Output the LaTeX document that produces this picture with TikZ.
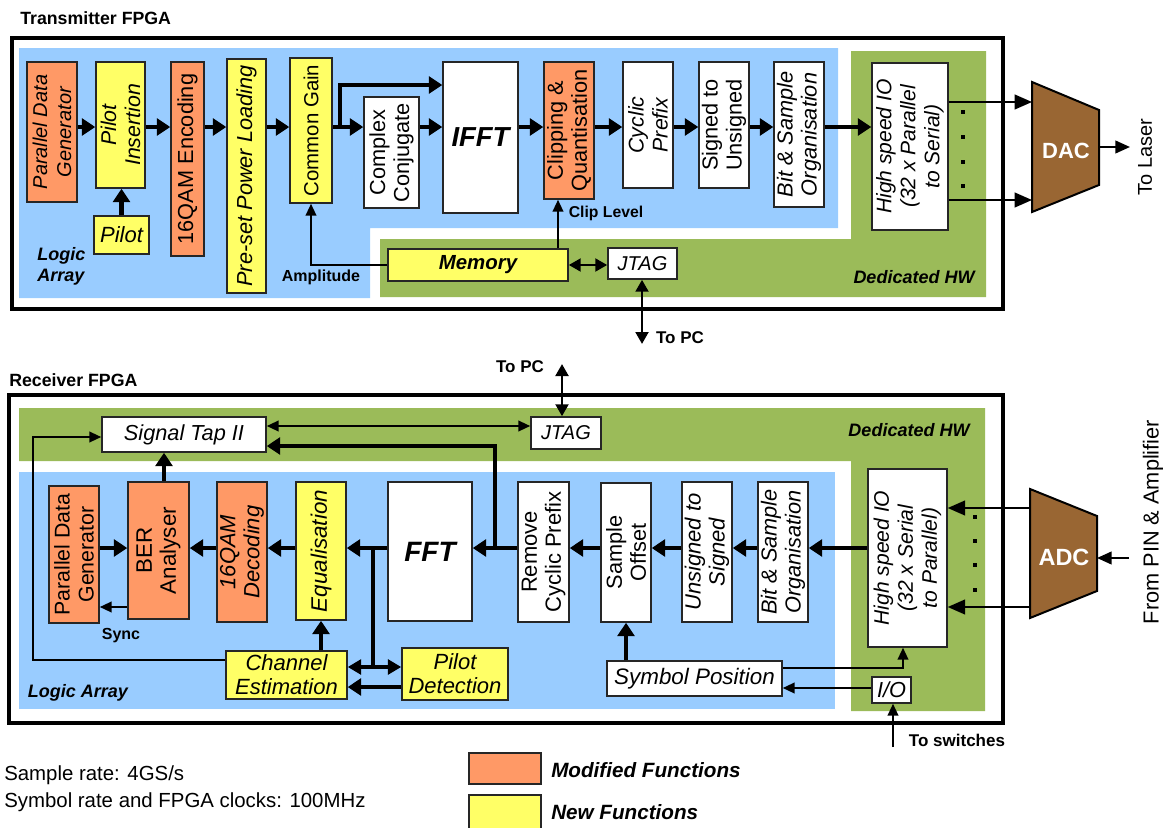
\documentclass[tikz,border=0pt]{standalone}
\usepackage{fontspec}
\setmainfont{Liberation Sans}
\usetikzlibrary{arrows.meta,fit}
\definecolor{lablue}{HTML}{99CCFF}
\definecolor{hwgreen}{HTML}{9BBB59}
\definecolor{modorange}{HTML}{FF9966}
\definecolor{newyellow}{HTML}{FFFF66}
\definecolor{convbrown}{HTML}{996633}
\newcommand\fz[1]{\fontsize{#1}{18}\selectfont}
\begin{document}
\begin{tikzpicture}[x=0.75pt,y=-0.75pt,
  blk/.style={draw=black!85, line width=1.1pt, fill=white, inner sep=0pt},
  modb/.style={blk, fill=modorange},
  newb/.style={blk, fill=newyellow},
  vtxt/.style={rotate=90, align=center, inner sep=0pt},
  htxt/.style={align=center, inner sep=0pt},
  fat/.style={line width=3.6pt, -{Triangle[length=10pt,width=12.5pt]}},
  fatline/.style={line width=3.6pt},
  med/.style={line width=2.2pt, -{Triangle[length=9pt,width=9.5pt]}},
  medboth/.style={line width=2.2pt, {Triangle[length=9pt,width=9.5pt]}-{Triangle[length=9pt,width=9.5pt]}},
  slim/.style={line width=1.5pt, -{Triangle[length=9pt,width=8pt]}},
  slimboth/.style={line width=1.5pt, {Triangle[length=9pt,width=8pt]}-{Triangle[length=9pt,width=8pt]}},
  conv/.style={line width=1.6pt, -{Triangle[length=13pt,width=11pt]}},
  boldlbl/.style={inner sep=0pt, font=\fz{12}\bfseries},
  arealbl/.style={inner sep=0pt, align=left, font=\fontsize{13.5}{15.75}\selectfont\bfseries\itshape},
  outer/.style={draw=black, line width=2.3pt},
  dot/.style={fill=black, minimum size=2.6pt, inner sep=0pt, rectangle}
]
\useasboundingbox (0,0) rectangle (1168,828);

% ================= Transmitter FPGA =================
\node[anchor=west, inner sep=0pt, font=\fz{13.3}\bfseries] (txtitle) at (20,18) {Transmitter FPGA};
\draw[outer] (12,38) rectangle (1003,309);
% logic array and dedicated hardware areas
\fill[lablue] (19,48) -- (838,48) -- (838,228) -- (370,228) -- (370,298) -- (19,298) -- cycle;
\fill[hwgreen] (851,51) -- (986,51) -- (986,297) -- (380,297) -- (380,239) -- (851,239) -- cycle;

\node[modb, fit={(27,62) (77,202)}] (pdgT) {};
\node[vtxt, font=\fz{15}\itshape] (pdgTt) at (pdgT) {Parallel Data\\Generator};
\node[newb, fit={(96,62) (145,188)}] (pins) {};
\node[vtxt, font=\fz{16}\itshape] (pinst) at (pins) {Pilot\\Insertion};
\node[newb, fit={(94,216) (149,254)}] (pilot) {};
\node[htxt, font=\fz{16.5}\itshape] (pilott) at (pilot) {Pilot};
\node[modb, fit={(171,62) (204,256)}] (qamT) {};
\node[vtxt, font=\fz{16.3}] (qamTt) at (qamT) {16QAM Encoding};
\node[newb, fit={(227,59) (266,293)}] (pre) {};
\node[vtxt, font=\fz{16.3}\itshape] (pret) at (pre) {Pre-set Power Loading};
\node[newb, fit={(290,58) (332,203)}] (cg) {};
\node[vtxt, font=\fz{15.3}] (cgt) at (cg) {Common Gain};
\node[blk, fit={(364,97) (419,208)}] (cc) {};
\node[vtxt, font=\fz{16.3}] (cct) at (cc) {Complex\\Conjugate};
\node[blk, fit={(443,62) (518,213)}] (ifft) {};
\node[htxt, font=\fz{20.6}\bfseries\itshape] (ifftt) at (ifft) {IFFT};
\node[modb, fit={(544,62) (594,199)}] (clip) {};
\node[vtxt, font=\fz{16.3}] (clipt) at (clip) {Clipping \&\\Quantisation};
\node[blk, fit={(623,62) (673,188)}] (cyc) {};
\node[vtxt, font=\fz{16}\itshape] (cyct) at (cyc) {Cyclic\\Prefix};
\node[blk, fit={(699,62) (749,188)}] (sgn) {};
\node[vtxt, font=\fz{16.3}] (sgnt) at (sgn) {Signed to\\Unsigned};
\node[blk, fit={(774,62) (824,207)}] (bsoT) {};
\node[vtxt, font=\fz{16.3}\itshape] (bsoTt) at (bsoT) {Bit \& Sample\\Organisation};
\node[blk, fit={(872,63) (948,230)}] (hsioT) {};
\node[vtxt, font=\fz{15.8}\itshape] (hsioTt) at (hsioT) {High speed IO\\(32 x Parallel\\to Serial)};
\node[newb, fit={(388,249) (568,281)}] (mem) {};
\node[htxt, font=\fz{15.3}\bfseries\itshape] (memt) at (mem) {Memory};
\node[blk, fit={(608,248) (677,279)}] (jtagT) {};
\node[htxt, font=\fz{15}\itshape] (jtagTt) at (jtagT) {JTAG};

% digital to analogue converter
\filldraw[fill=convbrown, draw=black, line width=1.5pt]
  (1032,82) coordinate (dacNW) -- (1099,110) -- (1099,185) -- (1032,212) -- cycle;
\coordinate (dacE) at (1099,147);
\node[inner sep=0pt, text=white, font=\fz{16.5}\bfseries] (dac) at (1066,151) {DAC};

% transmit data path
\coordinate (trow) at (0,127);
\draw[fat] (pdgT.east |- trow) -- (pins.west |- trow);
\draw[fat] (pins.east |- trow) -- (qamT.west |- trow);
\draw[fat] (qamT.east |- trow) -- (pre.west |- trow);
\draw[fat] (pre.east |- trow) -- (cg.west |- trow);
\draw[fat] (cg.east |- trow) -- (cc.west |- trow);
\draw[fat] (340,127) -- (340,85) -- (ifft.west |- 0,85);
\draw[fat] (cc.east |- trow) -- (ifft.west |- trow);
\draw[fat] (ifft.east |- trow) -- (clip.west |- trow);
\draw[fat] (clip.east |- trow) -- (cyc.west |- trow);
\draw[fat] (cyc.east |- trow) -- (sgn.west |- trow);
\draw[fat] (sgn.east |- trow) -- (bsoT.west |- trow);
\draw[fat] (bsoT.east |- trow) -- (hsioT.west |- trow);
\draw[fat] (pilot.north) -- (pilot.north |- pins.south);

% control paths
\draw[slim] (mem.west) -| (cg.south);
\draw[slim] (mem.north -| 558,0) -- (clip.south -| 558,0);
\draw[medboth] (mem.east) -- (mem.east -| jtagT.west);
\coordinate (pcT) at (642,344);
\draw[medboth] (jtagT.south -| pcT) -- (pcT);
\node[boldlbl] (ampl) at (321,277) {Amplitude};
\node[boldlbl, font=\fz{11.8}\bfseries] (clipl) at (606,213) {Clip Level};
\node[boldlbl, font=\fz{12.75}\bfseries] (topcT) at (680,338) {To PC};

% serial outputs to the converter
\draw[conv] (hsioT.east |- 0,102) -- (dacNW |- 0,102);
\draw[conv] (hsioT.east |- 0,200) -- (dacNW |- 0,200);
\foreach \yy in {112,137,162,186} \node[dot] at (963,\yy) {};
\draw[conv, -{Triangle[length=11pt,width=9.5pt]}] (dacE) -- (1130,147);
\node[rotate=90, inner sep=0pt, font=\fz{15}] (laser) at (1145,157) {To Laser};

\node[arealbl, anchor=west] (laT) at (37,266.5) {Logic\\Array};
\node[arealbl] (hwT) at (914,277) {Dedicated HW};

% ================= Receiver FPGA =================
\node[anchor=west, inner sep=0pt, font=\fz{13.3}\bfseries] (rxtitle) at (9,380) {Receiver FPGA};
\draw[outer] (9,395) rectangle (1003,723);
\fill[hwgreen] (19,408) -- (985,408) -- (985,711) -- (851,711) -- (851,461) -- (19,461) -- cycle;
\fill[lablue] (19,472) rectangle (835,709);

\node[blk, fit={(102,417) (266,452)}] (tap) {};
\node[htxt, font=\fz{16.3}\itshape] (tapt) at (tap) {Signal Tap II};
\node[blk, fit={(531,417) (601,449)}] (jtagR) {};
\node[htxt, font=\fz{15}\itshape] (jtagRt) at (jtagR) {JTAG};
\node[modb, fit={(49,486) (99,623)}] (pdgR) {};
\node[vtxt, font=\fz{16}] (pdgRt) at (pdgR) {Parallel Data\\Generator};
\node[modb, fit={(128,482) (189,619)}] (ber) {};
\node[vtxt, font=\fz{16.8}] (bert) at (ber) {BER\\Analyser};
\node[modb, fit={(217,482) (267,622)}] (qamR) {};
\node[vtxt, font=\fz{16.5}\itshape] (qamRt) at (qamR) {16QAM\\Decoding};
\node[newb, fit={(296,482) (346,620)}] (eq) {};
\node[vtxt, font=\fz{16.8}\itshape] (eqt) at (eq) {Equalisation};
\node[blk, fit={(388,482) (472,621)}] (fft) {};
\node[htxt, font=\fz{21}\bfseries\itshape] (fftt) at (fft) {FFT};
\node[blk, fit={(518,482) (569,622)}] (rcp) {};
\node[vtxt, font=\fz{16.5}] (rcpt) at (rcp) {Remove\\Cyclic Prefix};
\node[blk, fit={(601,483) (651,622)}] (so) {};
\node[vtxt, font=\fz{16.3}] (sot) at (so) {Sample\\Offset};
\node[blk, fit={(682,482) (732,622)}] (uts) {};
\node[vtxt, font=\fz{16.5}\itshape] (utst) at (uts) {Unsigned to\\Signed};
\node[blk, fit={(758,482) (808,622)}] (bsoR) {};
\node[vtxt, font=\fz{16.3}\itshape] (bsoRt) at (bsoR) {Bit \& Sample\\Organisation};
\node[blk, fit={(868,469) (947,647)}] (hsioR) {};
\node[vtxt, font=\fz{15.8}\itshape] (hsioRt) at (hsioR) {High speed IO\\(32 x Serial\\to Parallel)};
\node[newb, fit={(226,651) (347,699)}] (ce) {};
\node[htxt, font=\fz{16.5}\itshape] (cet) at (ce) {Channel\\Estimation};
\node[newb, fit={(402,648) (508,700)}] (pd) {};
\node[htxt, font=\fz{16.5}\itshape] (pdt) at (pd) {Pilot\\Detection};
\node[blk, fit={(607,661) (782,696)}] (sp) {};
\node[htxt, font=\fz{16.8}\itshape] (spt) at (sp) {Symbol Position};
\node[blk, fit={(872,677) (911,703)}] (io) {};
\node[htxt, font=\fz{16.3}\itshape] (iot) at (io) {I/O};

% analogue to digital converter
\filldraw[fill=convbrown, draw=black, line width=1.5pt]
  (1030,489) coordinate (adcNW) -- (1097,516) -- (1097,591) -- (1030,618) -- cycle;
\coordinate (adcE) at (1097,558);
\node[inner sep=0pt, text=white, font=\fz{17.6}\bfseries] (adc) at (1064,557) {ADC};
\draw[conv, -{Triangle[length=11pt,width=9.5pt]}] (1129,558) -- (adcE);
\node[rotate=90, inner sep=0pt, font=\fz{16.3}] (pin) at (1153,522) {From PIN \& Amplifier};
\draw[conv] (adcNW |- 0,508) -- (hsioR.east |- 0,508);
\draw[conv] (adcNW |- 0,607) -- (hsioR.east |- 0,607);
\foreach \yy in {517,541,565,590} \node[dot] at (975,\yy) {};

% receive data path
\coordinate (rrow) at (0,548);
\draw[fat] (hsioR.west |- rrow) -- (bsoR.east |- rrow);
\draw[fat] (bsoR.west |- rrow) -- (uts.east |- rrow);
\draw[fat] (uts.west |- rrow) -- (so.east |- rrow);
\draw[fat] (so.west |- rrow) -- (rcp.east |- rrow);
\draw[fat] (rcp.west |- rrow) -- (fft.east |- rrow);
\draw[fat] (495,548) |- (tap.east |- 0,446);
\draw[fat] (fft.west |- rrow) -- (eq.east |- rrow);
\draw[fatline] (373,548) -- (373,669);
\draw[line width=3pt, {Triangle[length=10pt,width=11pt]}-{Triangle[length=10pt,width=11pt]}]
  (ce.east |- 0,667) -- (pd.west |- 0,667);
\draw[fat] (pd.west |- 0,687) -- (ce.east |- 0,687);
\draw[fat] (eq.south |- ce.north) -- (eq.south);
\draw[fat] (eq.west |- rrow) -- (qamR.east |- rrow);
\draw[fat] (qamR.west |- rrow) -- (ber.east |- rrow);
\draw[fat] (pdgR.east |- rrow) -- (ber.west |- rrow);
\draw[slim] (ber.west |- 0,607) -- (pdgR.east |- 0,607);
\node[boldlbl] (sync) at (121,636) {Sync};
\draw[fat] (ber.north -| 164,0) -- (tap.south -| 164,0);
\draw[slim] (ce.west |- 0,660) -| (33,437) -- (tap.west |- 0,437);
\draw[slimboth] (tap.east |- 0,426) -- (jtagR.west |- 0,426);
\coordinate (pcR) at (562,364);
\draw[medboth] (jtagR.north -| pcR) -- (pcR);
\node[boldlbl, font=\fz{12.75}\bfseries] (topcR) at (520,367) {To PC};

% symbol timing control
\draw[fat, line width=3pt] (sp.north -| so.south) -- (so.south);
\draw[slim] (sp.east |- 0,668) -| (hsioR.south -| 903,0);
\draw[slim] (io.west |- 0,688) -- (sp.east |- 0,688);
\coordinate (sw) at (893,747);
\draw[slim] (sw) -- (io.south -| sw);
\node[boldlbl, font=\fz{12.75}\bfseries] (swl) at (957,740) {To switches};

\node[arealbl] (hwR) at (909,430) {Dedicated HW};
\node[arealbl] (laR) at (78,693) {Logic Array};

% ================= Notes and legend =================
\node[anchor=west, inner sep=0pt, align=left, font=\fontsize{15.3}{20.3}\selectfont] (notes) at (4,788.5)
  {Sample rate: 4GS/s\\Symbol rate and FPGA clocks: 100MHz};
\node[modb, fit={(469,753) (541,784)}] (legmod) {};
\node[anchor=west, inner sep=0pt, font=\fz{15.5}\bfseries\itshape] (legmodt) at (551,770) {Modified Functions};
\node[newb, fit={(469,795) (541,830)}] (legnew) {};
\node[anchor=west, inner sep=0pt, font=\fz{15.5}\bfseries\itshape] (legnewt) at (551,812) {New Functions};
\end{tikzpicture}
\end{document}
